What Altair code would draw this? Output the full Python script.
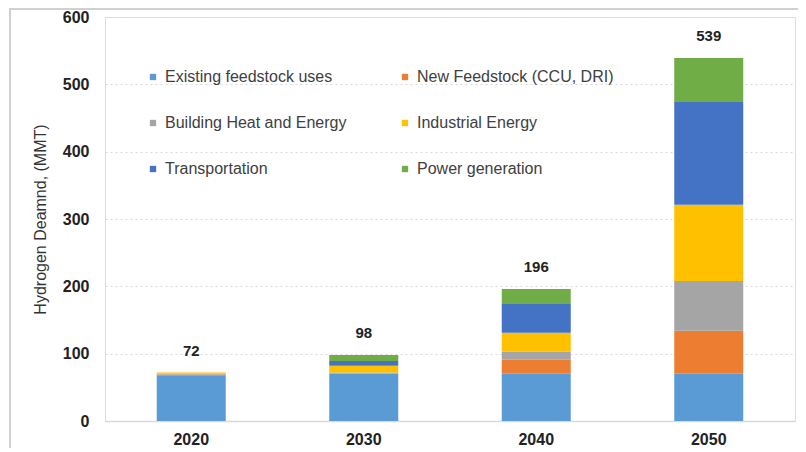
import altair as alt
import pandas as pd

years = ["2020", "2030", "2040", "2050"]
categories = [
    "Existing feedstock uses",
    "New Feedstock (CCU, DRI)",
    "Building Heat and Energy",
    "Industrial Energy",
    "Transportation",
    "Power generation",
]
colors = ["#5B9BD5", "#ED7D31", "#A5A5A5", "#FFC000", "#4472C4", "#70AD47"]

existing = [68, 70, 70, 70]
new_feedstock = [1, 1, 21, 64]
building = [1, 1, 12, 74]
industrial = [2, 10, 28, 113]
transportation = [0, 7, 44, 154]
power = [0, 9, 21, 64]
totals = [72, 98, 196, 539]

series = [existing, new_feedstock, building, industrial, transportation, power]
rows = []
for ci, (cat, vals) in enumerate(zip(categories, series)):
    for y, v in zip(years, vals):
        rows.append({"Year": y, "Category": cat, "Value": v, "Order": ci})
df = pd.DataFrame(rows)
tot = pd.DataFrame({"Year": years, "Total": totals})

# legend is laid out column by column, so list the entries column-wise
legend_idx = [0, 2, 4, 1, 3, 5]
legend_domain = [categories[i] for i in legend_idx]
legend_range = [colors[i] for i in legend_idx]

FONT = "Liberation Sans"

x_enc = alt.X(
    "Year:N",
    sort=years,
    scale=alt.Scale(paddingInner=0.6, paddingOuter=0.3),
    axis=alt.Axis(
        title=None, labelAngle=0, labelFont=FONT, labelFontSize=16,
        labelFontWeight="bold", labelColor="#222222", ticks=False,
        domainColor="#d9d9d9", domainWidth=1.5, labelPadding=10,
    ),
)

bars = alt.Chart(df).mark_bar().encode(
    x=x_enc,
    y=alt.Y(
        "Value:Q",
        stack="zero",
        scale=alt.Scale(domain=[0, 600], nice=False),
        axis=alt.Axis(
            values=[0, 100, 200, 300, 400, 500, 600],
            title="Hydrogen Deamnd, (MMT)", titleFont=FONT, titleFontSize=16,
            titleFontWeight="normal", titleColor="#333333", titlePadding=14,
            labelFont=FONT, labelFontSize=16, labelFontWeight="bold",
            labelColor="#222222", labelPadding=16, ticks=False, domain=False,
            grid=True, gridColor="#d9d9d9", gridDash=[2, 3], gridWidth=1,
        ),
    ),
    color=alt.Color(
        "Category:N",
        scale=alt.Scale(domain=legend_domain, range=legend_range),
        legend=alt.Legend(
            title=None, orient="none", legendX=40, legendY=52, columns=2,
            columnPadding=50, rowPadding=30, symbolType="square",
            symbolSize=40, symbolStrokeWidth=0, labelFont=FONT,
            labelFontSize=16, labelColor="#404040", labelOffset=4,
            labelLimit=300,
        ),
    ),
    order=alt.Order("Order:Q", sort="ascending"),
)

labels = alt.Chart(tot).mark_text(
    font=FONT, fontSize=15, fontWeight="bold", color="#222222",
    baseline="middle", dy=-22,
).encode(
    x=alt.X("Year:N", sort=years),
    y=alt.Y("Total:Q"),
    text=alt.Text("Total:Q"),
)

frame = alt.Chart(tot).mark_rect(
    fillOpacity=0, stroke="#cfcfcf", strokeWidth=1.5
).encode(
    x=alt.value(-95), x2=alt.value(696), y=alt.value(-8), y2=alt.value(470),
)

chart = alt.layer(frame, bars, labels).properties(
    width=690, height=404,
    autosize=alt.AutoSizeParams(type="none"),
    padding={"left": 97, "top": 9, "right": 3, "bottom": 27},
).configure_view(stroke=None).configure(background="white")

chart.save("out.html", embed_options={"renderer": "svg", "actions": False})
